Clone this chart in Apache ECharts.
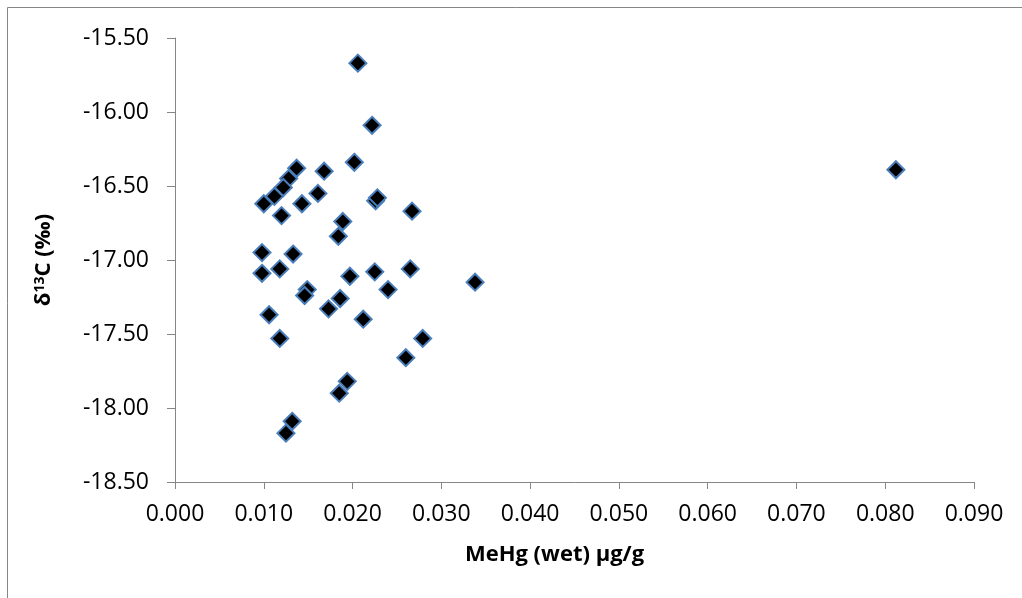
<!DOCTYPE html>
<html>
<head>
<meta charset="utf-8">
<title>MeHg vs d13C</title>
<script src="https://cdn.jsdelivr.net/npm/echarts@6/dist/echarts.min.js"></script>
<style>
  html, body { margin: 0; padding: 0; background: #fff; }
  #chart { width: 1022px; height: 598px; }
</style>
</head>
<body>
<div id="chart"></div>
<script>
// MeHg (wet) ug/g
const mehg = [
  0.0206, 0.0222, 0.0202, 0.0137, 0.0168, 0.0128, 0.0122, 0.0112, 0.0100, 0.0161,
  0.0143, 0.0120, 0.0226, 0.0228, 0.0267, 0.0189, 0.0184, 0.0098, 0.0133, 0.0098,
  0.0118, 0.0197, 0.0225, 0.0265, 0.0240, 0.0149, 0.0146, 0.0186, 0.0173, 0.0212,
  0.0106, 0.0118, 0.0279, 0.0260, 0.0194, 0.0185, 0.0132, 0.0125, 0.0812, 0.0338
]
// d13C (permil)
const d13c = [
  -15.67, -16.09, -16.34, -16.38, -16.40, -16.45, -16.51, -16.57, -16.62, -16.55,
  -16.62, -16.70, -16.60, -16.58, -16.67, -16.74, -16.84, -16.95, -16.96, -17.09,
  -17.06, -17.11, -17.08, -17.06, -17.20, -17.20, -17.24, -17.26, -17.33, -17.40,
  -17.37, -17.53, -17.53, -17.66, -17.82, -17.90, -18.09, -18.17, -16.39, -17.15
]

const points = mehg.map((x, i) => [x, d13c[i]])

const axisGray = '#868686'
const font = 'Open Sans'

const chart = echarts.init(document.getElementById('chart'))
chart.setOption({
  animation: false,
  backgroundColor: '#fff',
  // chart area border (only left / top edges show)
  graphic: [{
    type: 'rect',
    shape: { x: 7.5, y: 7.5, width: 1100, height: 1100 },
    style: { fill: 'none', stroke: axisGray, lineWidth: 1 },
    silent: true
  }],
  grid: {
    left: 175,
    right: 48,
    top: 38,
    bottom: 116
  },
  xAxis: {
    type: 'value',
    min: 0,
    max: 0.09,
    interval: 0.01,
    name: 'MeHg (wet) µg/g',
    nameLocation: 'middle',
    nameGap: 62,
    nameTextStyle: {
      fontFamily: font,
      fontSize: 22,
      fontWeight: 'bold',
      color: '#000',
      padding: [0, 40, 0, 0]
    },
    axisLine: { lineStyle: { color: axisGray, width: 1 } },
    axisTick: { show: true, inside: false, length: 7, lineStyle: { color: axisGray } },
    axisLabel: {
      fontFamily: font,
      fontSize: 23,
      color: '#000',
      margin: 21,
      formatter: v => v.toFixed(3)
    },
    splitLine: { show: false }
  },
  yAxis: {
    type: 'value',
    min: -18.5,
    max: -15.5,
    interval: 0.5,
    name: '{d|δ}{s|13}{d|C (‰)}',
    nameLocation: 'middle',
    nameGap: 120,
    nameRotate: 90,
    nameTextStyle: {
      rich: {
        d: { fontFamily: font, fontSize: 22, fontWeight: 'bold', color: '#000' },
        s: { fontFamily: font, fontSize: 14, fontWeight: 'bold', color: '#000', verticalAlign: 'top', padding: [0, 0, 8, 0] }
      }
    },
    axisLine: { show: true, lineStyle: { color: axisGray, width: 1 } },
    axisTick: { show: true, inside: false, length: 8, lineStyle: { color: axisGray } },
    axisLabel: {
      fontFamily: font,
      fontSize: 23,
      color: '#000',
      margin: 26,
      formatter: v => v.toFixed(2)
    },
    splitLine: { show: false }
  },
  series: [{
    type: 'scatter',
    data: points,
    symbol: 'diamond',
    symbolSize: 17,
    itemStyle: {
      color: '#000',
      opacity: 1,
      borderColor: '#4A7EBB',
      borderWidth: 2
    }
  }]
})
</script>
</body>
</html>
